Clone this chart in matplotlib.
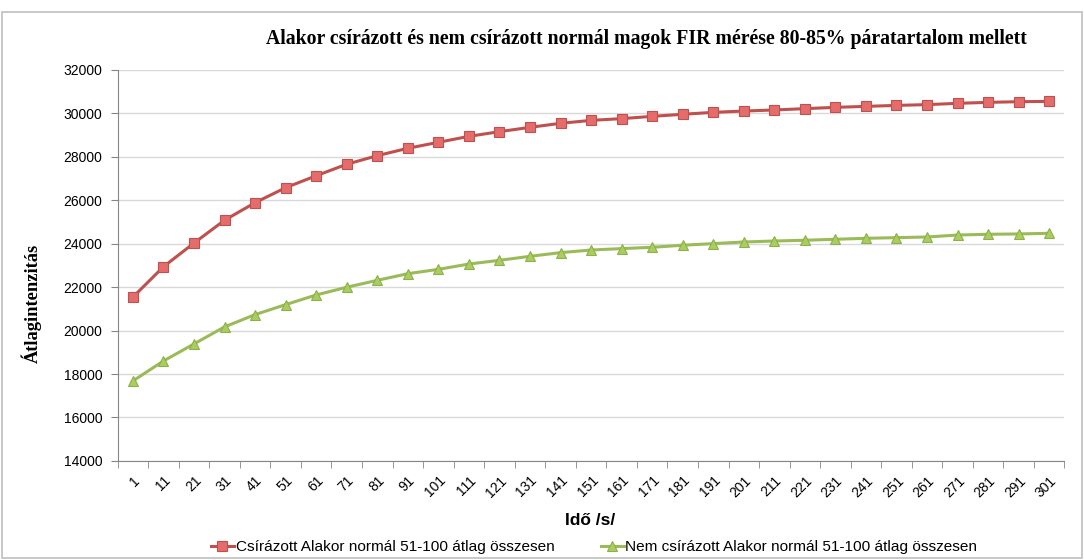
import matplotlib
matplotlib.use("Agg")
import matplotlib.pyplot as plt
from matplotlib.patches import Rectangle
import numpy as np

# ---- data ----
time_labels = [str(v) for v in range(1, 302, 10)]
csirazott = [21540, 22940, 24030, 25080, 25890, 26580, 27130, 27660, 28055, 28395,
             28670, 28945, 29160, 29360, 29545, 29680, 29760, 29865, 29960, 30050,
             30110, 30160, 30220, 30280, 30325, 30370, 30405, 30465, 30510, 30540, 30555]
nem_csirazott = [17680, 18600, 19385, 20170, 20735, 21195, 21640, 21995, 22315, 22620,
                 22820, 23065, 23235, 23420, 23590, 23710, 23775, 23835, 23930, 24005,
                 24080, 24125, 24160, 24205, 24250, 24280, 24310, 24400, 24435, 24450, 24480]
series_names = ["Csírázott Alakor normál 51-100 átlag összesen",
                "Nem csírázott Alakor normál 51-100 átlag összesen"]
title = "Alakor csírázott és nem csírázott normál magok FIR mérése 80-85% páratartalom mellett"
y_ticks = list(range(14000, 32001, 2000))

sans = ["Liberation Sans", "DejaVu Sans"]
serif = ["Liberation Serif", "DejaVu Serif"]

fig = plt.figure(figsize=(10.84, 5.6), dpi=100)
ax = fig.add_axes([0.1085, 0.177, 0.8735, 0.698])

x = np.arange(len(time_labels))
ax.plot(x, csirazott, color="#C0504D", lw=2.2, marker="s", ms=7,
        markerfacecolor="#E46C6A", markeredgecolor="#C0504D", markeredgewidth=0.8,
        label=series_names[0], zorder=3)
ax.plot(x, nem_csirazott, color="#9BBB59", lw=2.2, marker="^", ms=7,
        markerfacecolor="#A9CD5E", markeredgecolor="#8DB04A", markeredgewidth=0.8,
        label=series_names[1], zorder=3)

ax.set_xlim(-0.5, len(time_labels) - 0.5)
ax.set_ylim(14000, 32000)
ax.set_yticks(y_ticks)
ax.set_yticklabels([str(v) for v in y_ticks], fontfamily=sans, fontsize=10)
ax.set_xticks(x)
ax.set_xticklabels(time_labels, rotation=45, ha="right", va="top",
                   rotation_mode="anchor", fontfamily=sans, fontsize=10)
ax.set_xticks(np.arange(-0.5, len(time_labels)), minor=True)
ax.tick_params(axis="x", which="major", length=0, pad=9)
ax.tick_params(axis="x", which="minor", length=5, color="#868686")
ax.tick_params(axis="y", length=5, color="#868686", pad=6)

ax.grid(axis="y", color="#D9D9D9", lw=1)
ax.set_axisbelow(True)
for s in ["top", "right"]:
    ax.spines[s].set_visible(False)
for s in ["left", "bottom"]:
    ax.spines[s].set_color("#868686")

fig.text(0.596, 0.931, title, ha="center", va="center",
         fontfamily=serif, fontweight="bold", fontsize=14.2)
fig.text(0.029, 0.459, "Átlagintenzitás", rotation=90, ha="center", va="center",
         fontfamily=serif, fontweight="bold", fontsize=13.3)
fig.text(0.544, 0.071, "Idő /s/", ha="center", va="center",
         fontfamily=sans, fontweight="bold", fontsize=12.5)

fig.legend(loc="center", bbox_to_anchor=(0.548, 0.023), ncol=2, frameon=False,
           prop={"family": sans, "size": 11.1}, handlelength=1.5, columnspacing=3.0,
           handletextpad=0.1)

fig.patches.append(Rectangle((0.002, 0.003), 0.996, 0.976, transform=fig.transFigure,
                             fill=False, edgecolor="#BFBFBF", lw=1.2))

fig.savefig("out.png", dpi=100, facecolor="white")
